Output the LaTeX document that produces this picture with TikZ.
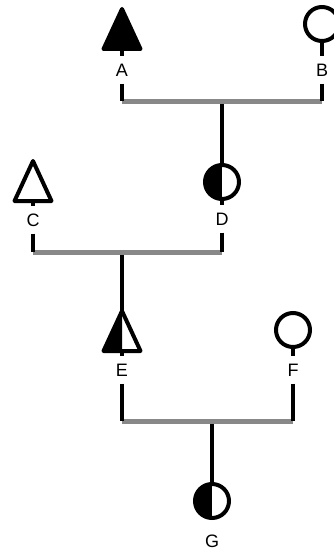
\documentclass[tikz,border=0pt]{standalone}
\usepackage{fontspec}
\setmainfont{Liberation Sans}
\definecolor{uniongray}{RGB}{136,136,136}
\tikzset{
  % triangle symbol; #1 is the fill colour
  malesym/.pic={
    \draw[line width=4pt, line join=round, fill=#1]
      (0,-20) -- (18.5,20) -- (-18.5,20) -- cycle;
    \coordinate (-apex) at (0,-20);
    \coordinate (-base) at (0,22);
  },
  % triangle symbol with its left half filled
  halfmalesym/.pic={
    \fill[white] (0,-20) -- (18.5,20) -- (-18.5,20) -- cycle;
    \fill[black] (0,-20) -- (0,20) -- (-18.5,20) -- cycle;
    \draw[line width=4pt, line join=round]
      (0,-20) -- (18.5,20) -- (-18.5,20) -- cycle;
    \coordinate (-apex) at (0,-20);
    \coordinate (-base) at (0,22);
  },
}
\begin{document}
\begin{tikzpicture}[x=1pt, y=-1pt,
  link/.style={line width=4.5pt, black},
  union/.style={line width=5pt, draw=uniongray},
  idlabel/.style={font=\fontsize{18}{18}\selectfont, text height=13pt,
    text depth=0pt, inner xsep=0pt, inner ysep=7pt},
  femalesym/.style={circle, draw=black, line width=4pt, minimum size=34pt,
    inner sep=0pt, fill=white},
  halffemalesym/.style={femalesym, path picture={
    \fill[black] (path picture bounding box.south west)
      rectangle (path picture bounding box.north);}},
]
\useasboundingbox (0,0) rectangle (334,551);

% individuals
\pic (A) at (122,29) {malesym=black};
\node[idlabel] (lA) at (122,70) {A};
\node[femalesym] (B) at (322,24) {};
\node[idlabel] (lB) at (322,70) {B};

\pic (C) at (33,181) {malesym=white};
\node[idlabel] (lC) at (33,220) {C};
\node[halffemalesym] (D) at (222,182) {};
\node[idlabel] (lD) at (222,219) {D};

\pic (E) at (122,331) {halfmalesym};
\node[idlabel] (lE) at (122,370) {E};
\node[femalesym] (F) at (293,330) {};
\node[idlabel] (lF) at (293,370) {F};

\node[halffemalesym] (G) at (212,501) {};
\node[idlabel] (lG) at (212,541) {G};

% union line ends and descent points
\coordinate (u1l) at (122,101);
\coordinate (u1r) at (322,101);
\coordinate (u1m) at (222,101);
\coordinate (u2l) at (33,252);
\coordinate (u2r) at (222,252);
\coordinate (u2m) at (122,252);
\coordinate (u3l) at (122,421);
\coordinate (u3r) at (293,421);
\coordinate (u3m) at (212,421);

% descents to children
\draw[link] (u1m) -- (D.north);
\draw[link] (u2m) -- (E-apex);
\draw[link] (u3m) -- (G.north);

% union lines
\draw[union] (u1l) -- (u1r);
\draw[union] (u2l) -- (u2r);
\draw[union] (u3l) -- (u3r);

% stems from symbols through labels to unions
\draw[link] (A-base) -- (lA.north);
\draw[link] (lA.south) -- (u1l);
\draw[link] (B.south) -- (lB.north);
\draw[link] (lB.south) -- (u1r);
\draw[link] (C-base) -- (lC.north);
\draw[link] (lC.south) -- (u2l);
\draw[link] (D.south) -- (lD.north);
\draw[link] (lD.south) -- (u2r);
\draw[link] (E-base) -- (lE.north);
\draw[link] (lE.south) -- (u3l);
\draw[link] (F.south) -- (lF.north);
\draw[link] (lF.south) -- (u3r);
\end{tikzpicture}
\end{document}
